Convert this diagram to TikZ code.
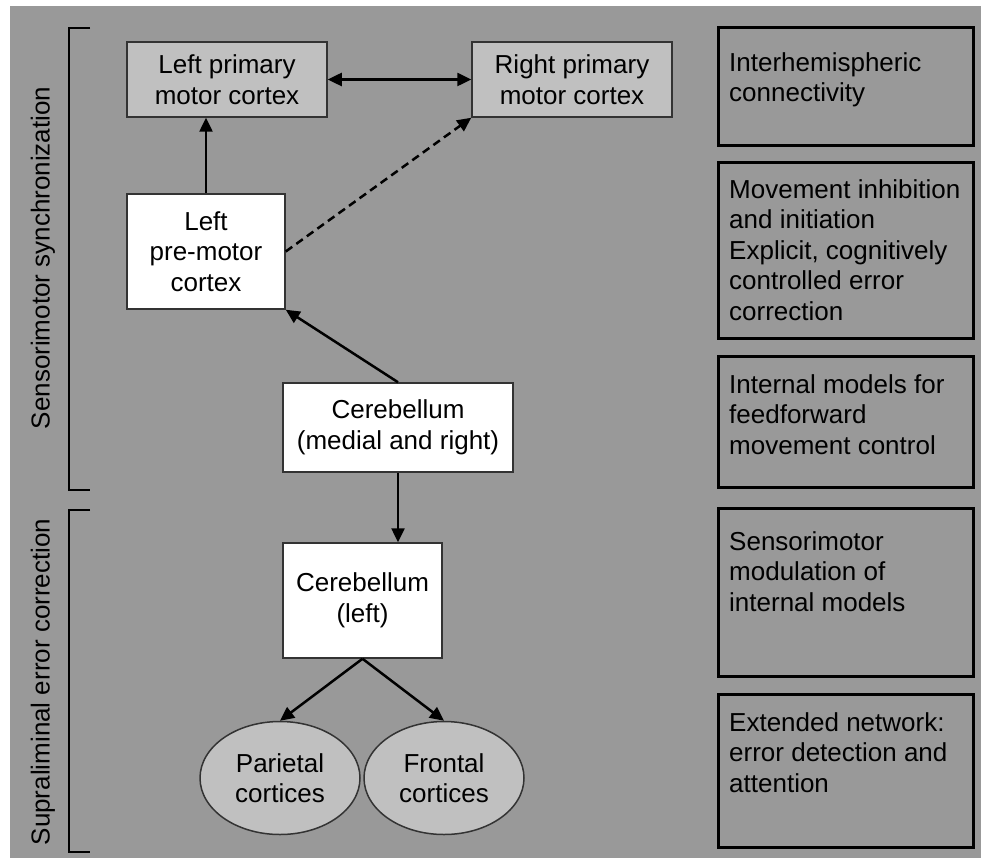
\documentclass[tikz,border=0pt]{standalone}
\usepackage{fontspec}
\setmainfont{Liberation Sans}
\usetikzlibrary{arrows.meta,shapes.geometric}
\definecolor{panelgray}{HTML}{999999}
\definecolor{boxgray}{HTML}{C0C0C0}
\definecolor{edgegray}{HTML}{333333}

\begin{document}
\begin{tikzpicture}[x=1pt,y=-1pt,
    every node/.style={font=\fontsize{26}{30.5}\selectfont},
    area/.style={draw=edgegray,line width=1.5pt,align=center,inner sep=0pt},
    motorbox/.style={area,fill=boxgray,minimum width=200pt,minimum height=75pt},
    whitebox/.style={area,fill=white},
    cortices/.style={area,ellipse,fill=boxgray,minimum width=160pt,minimum height=113pt},
    link/.style={line width=2.5pt,-{Triangle[length=14pt,width=13pt]}},
    twoway/.style={line width=2.5pt,{Triangle[length=14pt,width=13pt]}-{Triangle[length=14pt,width=13pt]}},
    rolebox/.style={draw=black,line width=3pt},
    roletext/.style={anchor=north west,align=left,inner sep=0pt},
    bracket/.style={line width=2.5pt}]
    \useasboundingbox (0,0) rectangle (981,858);
    \fill[panelgray] (10,6) rectangle (981,858);

    % two phases on the left
    \node[rotate=90] (sync) at (43,258) {Sensorimotor synchronization};
    \node[rotate=90] (supra) at (43,682) {Supraliminal error correction};
    \draw[bracket] (90,28) -- (69,28) -- (69,490) -- (90,490);
    \draw[bracket] (90,510) -- (69,510) -- (69,852) -- (90,852);

    % brain areas
    \node[motorbox] (lprim) at (227,79.5) {Left primary\\motor cortex};
    \node[motorbox] (rprim) at (572,79.5) {Right primary\\motor cortex};
    \node[whitebox,minimum width=158pt,minimum height=115pt] (lpre) at (206,251.5) {Left\\pre-motor\\cortex};
    \node[whitebox,minimum width=230pt,minimum height=89pt] (cbmr) at (398,427.5) {Cerebellum\\(medial and right)};
    \node[whitebox,minimum width=159pt,minimum height=115pt] (cbl) at (362.5,600.5) {Cerebellum\\(left)};
    \node[cortices] (par) at (280,778) {Parietal\\cortices};
    \node[cortices] (front) at (444,778) {Frontal\\cortices};

    \draw[twoway] (lprim.east) -- (rprim.west);
    \draw[link] (lpre.north) -- (lpre.north |- lprim.south);
    \draw[link,dash pattern=on 8pt off 5pt] (lpre.east) -- (rprim.south west);
    \draw[link] (cbmr.north) -- (lpre.south east);
    \draw[link] (cbmr.south) -- (cbmr.south |- cbl.north);
    \draw[link] (cbl.south) -- (par.north);
    \draw[link] (cbl.south) -- (front.north);

    % roles
    \draw[rolebox] (718,28) rectangle (973,146);
    \draw[rolebox] (718,163) rectangle (973,338);
    \draw[rolebox] (718,356) rectangle (973,487);
    \draw[rolebox] (718,508) rectangle (973,676);
    \draw[rolebox] (718,694) rectangle (973,847);
    \node[roletext] (inter) at (729,52.4) {Interhemispheric\\connectivity};
    \node[roletext] (inhib) at (729,179.4) {Movement inhibition\\and initiation\\Explicit, cognitively\\controlled error\\correction};
    \node[roletext] (intern) at (729,374.4) {Internal models for\\feedforward\\movement control};
    \node[roletext] (modul) at (729,531.4) {Sensorimotor\\modulation of\\internal models};
    \node[roletext] (extnet) at (729,712.4) {Extended network:\\error detection and\\attention};
\end{tikzpicture}
\end{document}
